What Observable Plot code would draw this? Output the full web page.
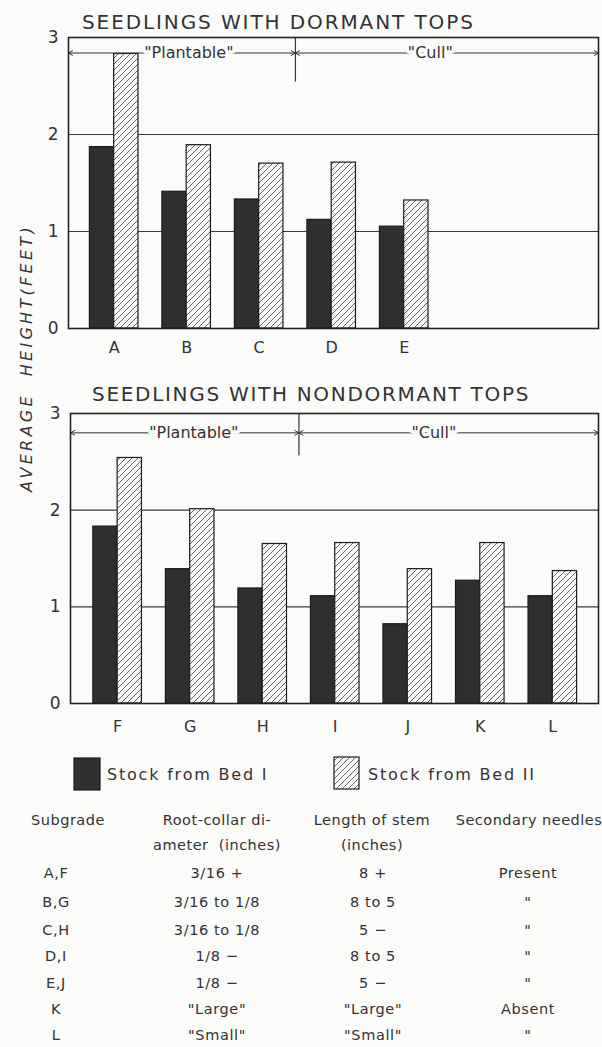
<!DOCTYPE html>
<html>
<head>
<meta charset="utf-8">
<script src="https://cdn.jsdelivr.net/npm/d3@7"></script>
<script src="https://cdn.jsdelivr.net/npm/@observablehq/plot@0.6"></script>
<style>
  html, body { margin: 0; padding: 0; background: #fbfbf9; }
  #wrap { position: relative; width: 602px; height: 1047px; background: #fbfbf9; color: #333; font-family: "DejaVu Sans", sans-serif; overflow: hidden; }
  .t { position: absolute; white-space: pre; line-height: 1; }
  svg { position: absolute; left: 0; overflow: visible; }
</style>
</head>
<body>
<div id="wrap"></div>
<script>
// ---------- data ----------
const dormantGrades = ["A", "B", "C", "D", "E"];
const dormantBedI  = [1.87, 1.41, 1.33, 1.12, 1.05];
const dormantBedII = [2.83, 1.89, 1.70, 1.71, 1.32];

const nondormantGrades = ["F", "G", "H", "I", "J", "K", "L"];
const nondormantBedI  = [1.83, 1.39, 1.19, 1.11, 0.82, 1.27, 1.11];
const nondormantBedII = [2.54, 2.01, 1.65, 1.66, 1.39, 1.66, 1.37];

const seriesNames = ["Stock from Bed I", "Stock from Bed II"];
const yTicks = [0, 1, 2, 3];
const classLabels = ["\"Plantable\"", "\"Cull\""];
const panelTitles = ["SEEDLINGS WITH DORMANT TOPS", "SEEDLINGS WITH NONDORMANT TOPS"];
const yLabel = "AVERAGE\u00A0 HEIGHT(FEET)";

const tableHeaders = [["Subgrade"], ["Root-collar di-", "ameter  (inches)"], ["Length of stem", "(inches)"], ["Secondary needles"]];
const subgrades = ["A,F", "B,G", "C,H", "D,I", "E,J", "K", "L"];
const rootCollar = ["3/16 +", "3/16 to 1/8", "3/16 to 1/8", "1/8 \u2212", "1/8 \u2212", "\"Large\"", "\"Small\""];
const stemLength = ["8 +", "8 to 5", "5 \u2212", "8 to 5", "5 \u2212", "\"Large\"", "\"Small\""];
const secondaryNeedles = ["Present", "\"", "\"", "\"", "\"", "Absent", "\""];

// ---------- helpers ----------
const BG = "#fbfbf9";
const INK = "#333";
const DARK = "#2f2f2f";
const wrap = document.getElementById("wrap");

function place(text, x, yc, opts = {}) {
  const fs = opts.fontSize || 15;
  const d = document.createElement("div");
  d.className = "t";
  d.textContent = text;
  d.style.fontSize = fs + "px";
  if (opts.ls != null) d.style.letterSpacing = opts.ls + "px";
  if (opts.italic) d.style.fontStyle = "italic";
  d.style.top = (yc - 0.48 * fs) + "px";
  d.style.left = x + "px";
  if (opts.anchor === "middle") d.style.transform = "translateX(-50%)";
  wrap.appendChild(d);
  return d;
}

function hatchDefs(svg, id) {
  d3.select(svg).insert("defs", ":first-child").html(
    `<pattern id="${id}" patternUnits="userSpaceOnUse" width="6" height="6">
       <rect width="6" height="6" fill="#fafafa"/>
       <path d="M-1,1 l2,-2 M0,6 l6,-6 M5,7 l2,-2" stroke="#555" stroke-width="0.9"/>
     </pattern>`);
}

function panel(cfg) {
  const {grades, bedI, bedII, xDomain, top, height, marginTop, marginBottom, marginLeft, divider, labelAt, arrowY, dividerBottom, patternId, tickPad} = cfg;
  const rows = grades.map((g, i) => ({g, i, a: bedI[i], b: bedII[i]}));
  const idx = grades.map((g, i) => i);
  const segs = classLabels.map((label, k) => ({
    label,
    from: k === 0 ? xDomain[0] : divider,
    to: k === 0 ? divider : xDomain[1],
    at: labelAt[k],
    y: arrowY
  }));
  const w = 0.335;
  const svg = Plot.plot({
    width: 602,
    height,
    marginTop, marginBottom, marginLeft, marginRight: 4,
    x: {domain: xDomain},
    y: {domain: [0, 3]},
    style: {background: "transparent", fontFamily: "DejaVu Sans, sans-serif", fontSize: "16px", color: INK, overflow: "visible"},
    marks: [
      Plot.ruleY(yTicks.filter(t => t > 0 && t < 3), {stroke: "#3a3a3a", strokeWidth: 1.1}),
      Plot.rectY(rows, {x1: d => d.i - w, x2: d => d.i, y: "a", fill: DARK, stroke: "#1c1c1c", strokeWidth: 1.2}),
      Plot.rectY(rows, {x1: d => d.i, x2: d => d.i + w, y: "b", fill: `url(#${patternId})`, stroke: "#1c1c1c", strokeWidth: 1.2}),
      Plot.ruleX([divider], {y1: 3, y2: dividerBottom, stroke: "#333", strokeWidth: 1.2}),
      Plot.arrow(segs, {x1: "at", x2: "from", y1: "y", y2: "y", stroke: "#333", strokeWidth: 1, headLength: 7}),
      Plot.arrow(segs, {x1: "at", x2: "to", y1: "y", y2: "y", stroke: "#333", strokeWidth: 1, headLength: 7}),
      Plot.text(segs, {x: "at", y: "y", text: "label", fill: INK, stroke: BG, strokeWidth: 7, fontSize: 16, letterSpacing: 0.8}),
      Plot.frame({stroke: "#222", strokeWidth: 1.6}),
      Plot.axisX(idx, {tickFormat: i => grades[i], tickSize: 0, tickPadding: tickPad, fontSize: 16}),
      Plot.axisY(yTicks, {tickFormat: d => String(d), tickSize: 0, tickPadding: 10, fontSize: 17})
    ]
  });
  hatchDefs(svg, patternId);
  svg.style.top = top + "px";
  wrap.appendChild(svg);
}

// ---------- titles ----------
place(panelTitles[0], 82, 22, {fontSize: 20, ls: 1.9});
place(panelTitles[1], 92, 394, {fontSize: 20, ls: 1.7});

// ---------- panels ----------
panel({
  grades: dormantGrades, bedI: dormantBedI, bedII: dormantBedII,
  xDomain: [-0.63, 6.68], top: 28, height: 340, marginTop: 9, marginBottom: 40, marginLeft: 68,
  divider: 2.5, labelAt: [1.03, 4.36], arrowY: 2.84, dividerBottom: 2.54, patternId: "hatch1", tickPad: 13
});
panel({
  grades: nondormantGrades, bedI: nondormantBedI, bedII: nondormantBedII,
  xDomain: [-0.65, 6.63], top: 404, height: 339, marginTop: 9, marginBottom: 40, marginLeft: 70,
  divider: 2.5, labelAt: [1.05, 4.36], arrowY: 2.8, dividerBottom: 2.56, patternId: "hatch2", tickPad: 17
});

// ---------- y label ----------
{
  const d = document.createElement("div");
  d.className = "t";
  d.textContent = yLabel;
  d.style.fontSize = "16px";
  d.style.fontStyle = "italic";
  d.style.letterSpacing = "3.3px";
  d.style.left = "27px";
  d.style.top = "358px";
  d.style.transform = "translate(-50%, -50%) rotate(-90deg)";
  wrap.appendChild(d);
}

// ---------- legend ----------
{
  const sw = [
    {x: 73, y: 757, w: 26, h: 32, hatch: false, tx: 107},
    {x: 333, y: 756, w: 25, h: 32, hatch: true, tx: 368}
  ];
  seriesNames.forEach((name, k) => {
    const s = sw[k];
    const svg = d3.create("svg").attr("width", s.w + 2).attr("height", s.h + 2)
      .style("left", s.x + "px").style("top", s.y + "px");
    if (s.hatch) {
      svg.append("defs").html(`<pattern id="hatchL" patternUnits="userSpaceOnUse" width="6" height="6">
        <rect width="6" height="6" fill="#fafafa"/>
        <path d="M-1,1 l2,-2 M0,6 l6,-6 M5,7 l2,-2" stroke="#555" stroke-width="0.9"/></pattern>`);
    }
    svg.append("rect").attr("x", 1).attr("y", 1).attr("width", s.w).attr("height", s.h)
      .attr("fill", s.hatch ? "url(#hatchL)" : DARK).attr("stroke", "#1c1c1c").attr("stroke-width", 1.2);
    wrap.appendChild(svg.node());
    place(name, s.tx, 775, {fontSize: 16, ls: 1.8});
  });
}

// ---------- table ----------
{
  const colX = [68, 217, 372, 529];
  const fs = 14.5;
  tableHeaders.forEach((lines, c) => {
    lines.forEach((line, r) => place(line, colX[c], r === 0 ? 820 : 845, {fontSize: fs, ls: 0.5, anchor: "middle"}));
  });
  const rowY = [873, 902, 930, 956, 983, 1009, 1035];
  const cols = [subgrades, rootCollar, stemLength, secondaryNeedles];
  const rowColX = [56, 217, 373, 528];
  cols.forEach((col, c) => col.forEach((v, r) => place(v, rowColX[c], rowY[r], {fontSize: fs, ls: 0.6, anchor: "middle"})));
}
</script>
</body>
</html>
